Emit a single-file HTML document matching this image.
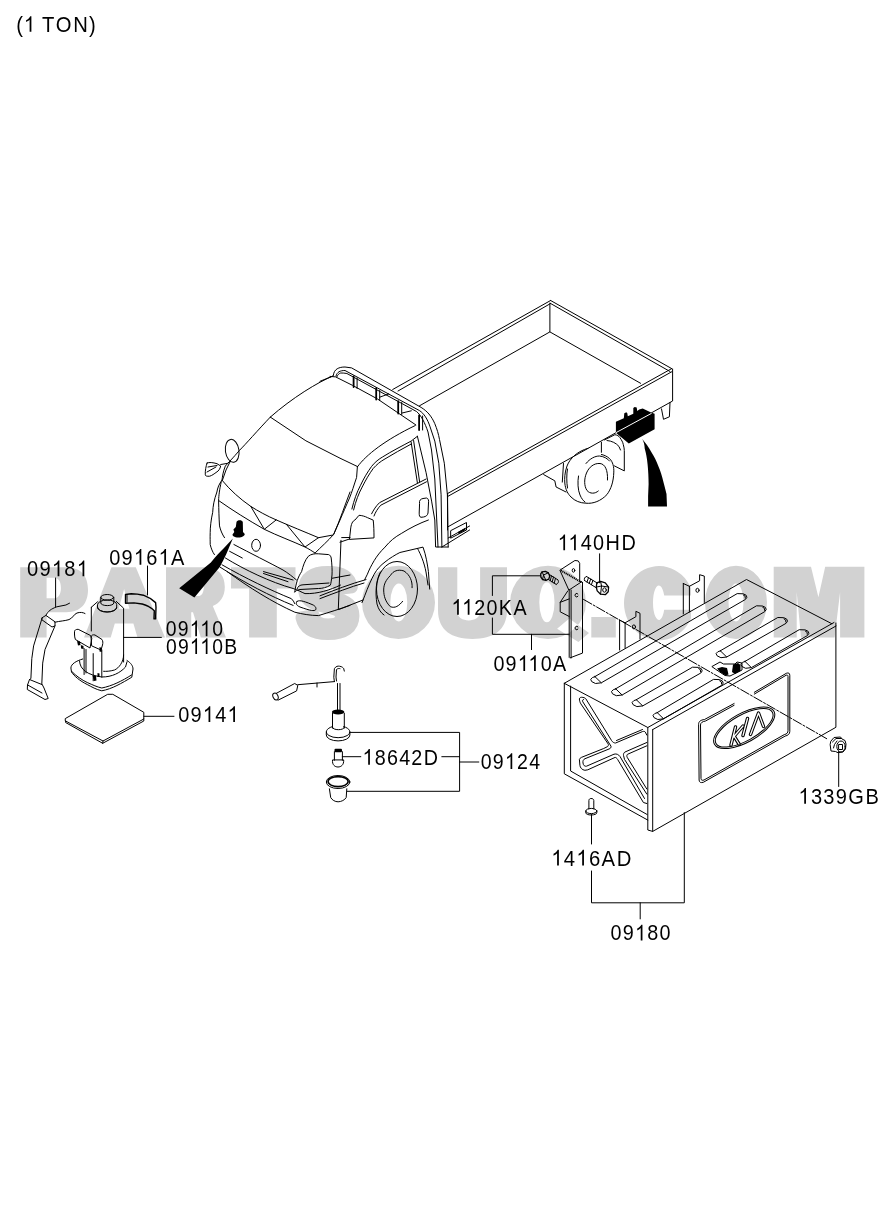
<!DOCTYPE html>
<html><head><meta charset="utf-8"><style>
html,body{margin:0;padding:0;background:#fff;}
body{width:886px;height:1211px;overflow:hidden;}
svg{display:block;}
.t{opacity:0.999;}
.t{font-family:"Liberation Sans",sans-serif;font-size:21.5px;fill:#000;}
.wm{font-family:"Liberation Sans",sans-serif;font-weight:bold;font-size:100px;fill:#d2d2d2;stroke:#d2d2d2;stroke-width:9;stroke-linejoin:round;}
.l{fill:none;stroke:#000;stroke-width:1;stroke-linejoin:round;stroke-linecap:round;}
.k{fill:#000;stroke:none;}
</style></head><body>
<svg width="886" height="1211" viewBox="0 0 886 1211">
<rect width="886" height="1211" fill="#fff"/>
<!-- watermark -->
<g fill="#d2d2d2" fill-rule="evenodd">
<path d="M 20.2 637.5 L 20.2 567.3 L 66.3 567.3 C 81.2 567.3 88.0 576.4 88.0 589.8 C 88.0 603.1 81.2 612.2 66.3 612.2 L 46.6 612.2 L 46.6 637.5 Z M 46.6 577.8 L 54.1 577.8 C 58.8 577.8 60.9 582.0 60.9 588.0 C 60.9 594.0 58.8 598.2 54.1 598.2 L 46.6 598.2 Z"/>
<path d="M 84.0 637.5 L 111.5 567.3 L 135.8 567.3 L 165.0 637.5 L 137.5 637.5 L 133.4 623.5 L 114.8 623.5 L 110.7 637.5 Z M 118.8 608.7 L 129.4 608.7 L 124.1 589.1 Z"/>
<path d="M 166.0 637.5 L 166.0 567.3 L 204.4 567.3 C 218.8 567.3 224.8 575.7 224.8 587.0 C 224.8 596.8 220.0 603.1 212.8 605.9 L 226.0 637.5 L 200.8 637.5 L 193.0 612.2 L 191.2 612.2 L 191.2 637.5 Z M 191.2 578.5 L 199.0 578.5 C 202.6 578.5 203.8 582.0 203.8 587.0 C 203.8 591.9 202.0 596.1 198.4 596.1 L 191.2 596.1 Z"/>
<path d="M 231.0 567.3 L 295.5 567.3 L 295.5 588.4 L 276.8 588.4 L 276.8 637.5 L 249.1 637.5 L 249.1 588.4 L 231.0 588.4 Z"/>
<path d="M362.0 602.4A36.5 36.6 0 1 1 435.0 602.4A36.5 36.6 0 1 1 362.0 602.4ZM390.3 602.4A8.5 19.0 0 1 0 407.3 602.4A8.5 19.0 0 1 0 390.3 602.4Z"/>
<path d="M 438.0 567.3 L 457.3 567.3 L 457.3 611.8 C 457.3 617.5 462.8 620.4 468.7 620.4 C 474.6 620.4 480.1 617.5 480.1 611.8 L 480.1 567.3 L 507.0 567.3 L 507.0 610.3 C 507.0 630.4 493.2 639.0 472.5 639.0 C 451.8 639.0 438.0 630.4 438.0 610.3 Z"/>
<path d="M510.0 602.4A38.0 36.6 0 1 1 586.0 602.4A38.0 36.6 0 1 1 510.0 602.4ZM539.3 602.3A7.6 20.0 0 1 0 554.5 602.3A7.6 20.0 0 1 0 539.3 602.3ZM 557.1 628.8 L 569.3 618.5 L 589.0 633.1 L 578.4 641.9 Z"/>
<path d="M591.3 617H615.8V637.5H591.3Z"/>
<path d="M691 588.2A35 37.1 0 1 0 691 618.2L691 609.8L664.2 609.8A5.85 17.3 0 1 1 664.2 595.6L691 595.6Z"/>
<path d="M705.0 602.4A31.0 36.6 0 1 1 767.0 602.4A31.0 36.6 0 1 1 705.0 602.4ZM728.5 602.4A7.5 19.0 0 1 0 743.5 602.4A7.5 19.0 0 1 0 728.5 602.4Z"/>
<path d="M773.7 637.6L773.7 566.8L811 566.8L818.4 597.2L825.2 566.8L864.4 566.8L864.4 637.6L840.1 637.6L840.1 592L834.6 637.6L801 637.6L796.7 592L796.7 637.6Z"/>
</g>
<g class="wm"><text transform="translate(298.9 632.5) scale(0.866 0.872)" style="stroke-width:14">S</text></g>

<!-- leader lines -->
<g class="l">
<path d="M55.6 578V607"/>
<path d="M147.5 566V595"/>
<path d="M123.6 637.4H161.4"/>
<path d="M143.9 716.3H174"/>
<path d="M349.9 732.4H459.6V791.3H347.4M342.3 756.7H360.8M441.8 756.7H459.6M459.6 762H478.8"/>
<path d="M599.6 553.8V582.8"/>
<path d="M540.7 575.8H492.4V595.5M492.4 618V634.3H569.2M531.5 634.3V649.6"/>
<path d="M838.7 751.4V786.5"/>
<path d="M591.5 814.5V844M591.5 871V902.8H684.3V812.6M640.2 902.8V918.9"/>
</g>

<!-- ===== TRUCK ===== -->
<g class="l">
<!-- roof -->
<path d="M320 381.3L333.4 375.8"/>
<path d="M333 376C318 382 292 398 270.3 417.1"/>
<path d="M330 376.4L335.6 376.9L352.6 385.4L377.4 398.9L415.8 424.9"/>
<path d="M270.3 417.1L305.9 440.8L340 458.2L357.6 466.6"/>
<path d="M357.6 466.6C366 455 385 440 415.3 425.5"/>
<!-- rollbar -->
<path d="M333.4 375C334 369 339 367 345 367L351.6 367.9L421.1 407.4C427 411 431.5 416 434.8 423.7C437 429 438.5 434 439.5 439.5L444.3 463.2L447.4 494.8L448.2 547"/>
<path d="M336 376C337 372 340 370.5 345 370.5L419.5 410.6C424 413.5 427.5 419 430.1 426.9L434.8 441.1L438.8 463.2L441.1 494.8L441.9 547"/>
<path d="M336.8 376.9C337.5 375 339 373.5 340.7 373C342.5 372.8 345 373.2 346.9 373.5L409 407.4L416.5 411.5C421 415 425 423 428 432L431.5 450L434.8 479L438 547"/>
<path d="M417.4 436.3L426.1 472.7L431.6 501.1L434.8 520L435.6 547H448.2"/>
<path d="M357.1 378V388.5M379.7 390.5V400.5M401.7 402.5V414.5M422.6 416V430"/>
<path d="M353.6 376.4V387.1M376.2 388.2V399.5M398.2 401.2V413.6M419.1 415.3V430" stroke-width="1.8"/>
<path d="M379.7 397.2L388.7 393.9M402.2 413L411.3 410.8"/>
<!-- bed -->
<path d="M550.6 300.5L392.7 389.5"/>
<path d="M550.6 303.5L398 391"/>
<path d="M550.6 300.5L671.7 368.6"/>
<path d="M550.6 303.5L670 371.5"/>
<path d="M549.9 303.1V331.9L419.5 405.8M549.9 331.9L640.6 383.3"/>
<path d="M671.7 368.6L447.6 493.5"/>
<path d="M671.7 371.8L447.6 496.5"/>
<path d="M672.6 369L672.6 401L447.6 527M447.6 493.5V530"/>
<path d="M661.5 408.9L663.5 419.3L669.4 416.8L670 402.4"/>
<!-- rear wheel & under -->
<path d="M588 448.3C578 451 570 458 567 466C564.5 473 564.5 479 564.8 483C565.5 490 568 494 571 497C575 501 580 503 585.9 503.2C593 504 601 501 607 494.5C611 489 613.5 482 613.8 472.1C614 467 613 462 609.5 458.5C606.5 456 604 455 601.4 454.5"/>
<path d="M567.5 469C566.5 474 566.5 482 567.5 488"/>
<path d="M578.5 476C577.5 482 577.8 490 580 495C581.5 498.5 583 500.5 585 502"/>
<path d="M586 463.5C590 458.5 595 456 599.5 456C604 456.5 607.5 458.5 609.5 461"/>
<path d="M607.5 480C608 470 605 464 600 463.5C594 463 589 467 586.5 473C584 479 584 486 587 490.5C590 494 595 494 598.3 491"/>
<path d="M601.4 442.3V452.3M604.5 439.9L614.9 434.7C617 435 619 436 619.9 437.6C621.5 440 622.8 442 623.3 444.6C624 447 624.3 449 624.3 450.5L624.3 470.9L614.4 465.9M607 440.5C612 441 616 443 619 446.5L620.5 450"/>
<path d="M543.7 474.6L554.8 480.8L556.1 487L566 492M563.5 463.5L562.3 482.1"/>
<!-- cab front -->
<path d="M270.3 417.1C258 430 245 445 239.5 450.3C233 458 228 463 225.3 466.1C223 472 222.5 476 222 480.2"/>
<path d="M222 480.2C219 484 217.5 488 216.9 492C214 500 213 506 212.7 512.3C211 520 210.2 527 210.2 532.6C210 538 210.2 541 210.2 544.5C211 548 212.5 552 214.4 554.6"/>
<path d="M221.2 481.9C219.5 490 218.8 495 218.6 500.5C218.8 510 219 518 219.5 525.9C220.5 530 222 534 224.5 537.7"/>
<path d="M222 480.2C230 490 240 499 250.8 506.4C258 511 267 516 276.2 519.9C290 526 305 532 318.5 537.7L333 535"/>
<path d="M218.6 500.5C232 510 248 520 264.3 529.3C278 536 292 541 305 547C309 549 312 551 315 553"/>
<path d="M250.8 506.4L264.3 529.3L276.2 519.9M286.3 524.2L305 547L318.5 537.7"/>
<path d="M350 492C345 505 340 520 333.7 534.3C328 541 321 547 315.1 553"/>
<path d="M294.8 591.9C296 583 298 577 301.6 571.6C303 566 305 560 308.3 556.3C311 554 315 553.5 318.5 553.8L328.7 554.6C330 555 331 556.5 331.2 558C332 565 332.3 570 332 575C331.5 580 331 583 330.4 585.1C327 587.5 322 588.5 318.5 588.5L300 589.5C297 590 295.5 591 294.8 591.9Z"/>
<path d="M297 589C298 586 300 585 303 584.8L329 583"/>
<path d="M332 578.3L350 575"/>
<path d="M233.9 544.5C250 553 270 563 283 570C288 573 293 577 296.5 580"/>
<path d="M229.6 551.3L242.3 558"/>
<path d="M263.5 571.6L293.1 580M263.5 573.5L288 581.7"/>
<path d="M225.4 558C245 570 270 582 293.1 588.5C298 590 301 592 305 593.6C318 594 330 590 340.5 585.1"/>
<path d="M222 564.8C245 578 270 590 291.4 598.7C293 600 294 602 294.8 603.7"/>
<path d="M220.3 567.3C245 583 270 596 293.1 605.4"/>
<path d="M227.1 571.6C250 588 272 602 294.8 612.2C302 614 310 615.5 318.5 615.6C330 612 340 609 350 605.4"/>
<path d="M297 601.5C298.5 600 302 600.3 312 604.5C316 606 316.5 608.5 315.5 610C314 611 311 611 300 607C296 605.5 295.5 603 297 601.5Z"/>
<path d="M341.7 537.6L350 537.5"/>
<ellipse cx="256.1" cy="545.3" rx="4.4" ry="6"/>
<!-- mirrors -->
<ellipse cx="232.2" cy="450.8" rx="6.8" ry="11.5" transform="rotate(-8 232.2 450.8)"/>
<path d="M207.1 463C209 462 213 462.5 217 463.7L220.7 466C220 469 218.5 471 217 471.8C214 474 212 475.5 209.7 476.2C207 476.5 205.3 476 205.3 474.8C205 471 206 466 207.1 463Z"/>
<path d="M208 467L217 465.5M207 472L216 467"/>
<path d="M220.7 464.5L227.3 463.4L230.2 461.5M230.2 461.5L226 470L222.5 480"/>
<!-- door / side -->
<path d="M357.4 466.4L356.6 477.4C354 485 352 492 349.5 498C346 506 343 513 340 520L333.7 534.3"/>
<path d="M351.9 509C354 500 357 492 360.5 485.3C364 478 367.5 472 371.6 466.4C375 462 379 459 382.7 456.9C392 451 402 446 411.1 441.1L417.4 436.3"/>
<path d="M353.6 510C355.7 501 358.7 493.5 362.2 487C365.7 480 369.2 474 373.2 468.5C376.7 464.5 380.5 461.5 384 459.5C393 454 402 449 411.1 444.1"/>
<path d="M411.1 441.9L417.4 482.9M413.6 440.5L419.6 481.8"/>
<path d="M426.1 479L379.5 502.7C376 506 373.5 510 371.6 513.8M426.5 481.8L380.8 505.2C377.7 508.5 375.5 512 374 516"/>
<path d="M419.5 503C419 500.5 420.5 499 423 498.5L426.5 498C428.5 498.5 428.8 500.5 428.5 503L428 513C427.5 515.5 426 516.5 423.5 517L421 517.3C419.5 517 419.2 515.5 419.2 513.5Z"/>
<path d="M349.5 539L350.5 530C351 524 352.5 521 355 520L359 515.3C362 515.5 365 516.3 367.6 517.7L373.2 520.1C373.8 525 374 531 374 537.5Z"/>
<path d="M340 542.2L349.5 539"/>
<path d="M341 540.3L338.3 609.4"/>
<path d="M428.4 520C420 523 410 528 401.3 533.5C395 537 390 541 385 547.1C380 552 377 556 374.2 560.6C371 566 369 570 367.4 574.2L364.7 579.6"/>
<path d="M362 602.6L364.7 595.8C368 587 371 580 374.2 574.2C377 569 381 565 385 562C390 558 395 555 399.9 552.5L417.5 548.4L423 547.1C426 555 427.5 565 428.4 571.5L429.7 589.1"/>
<path d="M417.5 548.4C421 555 424 562 426 572L428 585"/>
<ellipse cx="397" cy="589" rx="20.5" ry="27.5"/>
<path d="M380.5 572C376 580 375 592 377 604C378.5 609.5 381 613 384 615"/>
<path d="M412.1 587.7C412.5 581 410 575 404 571C398 569 393 571 390.4 575.5C386 580 383.7 584 383.7 590C383.7 596 385.5 602 390.4 606.7C395 608.5 399 606 402.6 601.3"/>
<path d="M320 595.8C335 590 350 584 366 579.6M320 598.6C335 593 350 587 364 583M339 609.4L363.3 599.9"/>
<path d="M441.9 547L469.6 530M448.2 538L469.6 526M451 530.5L466.5 522.5L466.5 530L451 538Z"/>
</g>
<g class="k"><path d="M458 532L465 528L465.5 530L458.5 534Z"/></g>
<g class="l">
</g>
<!-- black fills truck -->
<g class="k">
<path d="M615.9 421.8L623.8 418.3L624.3 413.3L626.3 412.3L627.3 413.3L627.8 416.3L633.3 413.8L633.3 407.9L634.7 406.9L636.7 407.4L637.2 410.9L639.2 409.4L642.7 408.4L651.6 412.8L654.6 413.8L654.6 429.2L628.8 443.6L615.9 432.7Z"/>
<path d="M642.2 439.1C644 442 644.5 445 644.7 448.5C646 453 647 458 647.6 464.4C648.3 471 648.6 478 648.6 484.2L648.1 496.1L648.1 506.5L667 506.5L666.5 494.1C665.5 490 664.5 486 663.5 482.2C662 476 660.5 471 658.5 466.4C656.5 461 654 456 651.6 452.5C648.5 447 645.5 443 642.2 439.1Z"/>
<path d="M236.5 522C237 520 242 519.5 242.8 522L243 532L244.8 534C244.5 536.5 241 537.8 238 537.5C235 537.3 232.4 536 232.5 534.4L234.3 532L233.4 529.5L235.8 527Z"/>
<path d="M232.8 538.5C225 547 216 556 210.6 562.8L179.2 588.2L194.4 597.4L219.8 566.9C225 558 228 550 232.8 538.5Z"/>
</g>
<path d="M615.9 432.7L651.6 413.3" stroke="#fff" stroke-width="1"/>

<!-- ===== LEFT PARTS ===== -->
<g class="l">
<!-- strap 09181 -->
<path d="M42.2 617.7L33.6 645.9L31.8 658.6L30.9 678.6L29.5 679.5L27.5 685L27.3 689.5L45 699.5L48.2 698.5L44 688L42.2 684.5"/>
<path d="M55 625.9L45 649.5L42.7 663.1L41.8 684"/>
<path d="M42.2 617.7L45.9 615.4L55 621.8L55 625.9L52 627L42.2 620Z"/>
<path d="M29.5 679.5L41.8 684.5M27.7 685L42 693"/>
<path d="M45.9 615.4C48 611 51 609 56.8 606.8L65.9 605L69.5 603.2"/>
<path d="M55 622.2C60 621 65 620.9 69 619.6C73 618 74 614 77 613C80 612 83 612.3 85 613.5"/>
<!-- clamp 09161A -->
<path stroke-width="1.4" d="M125.5 594.5L131.2 593.8L137.3 594.1L143.4 595.2C147 596.5 152 599.5 155.6 602.6L156 607.3L155.6 618.9L154 618.9L154.3 610.7C152 608.5 150 607.5 148.9 606.7C146 605 144 604.5 142.1 604L134 602.9L125.5 603.3Z"/>
<path d="M127 595.5V602.5"/>
<!-- jack 09110 -->
<path d="M91.3 607.3V631M91.3 607.3L97.5 601.8M116.3 601.4L123.6 608.2V662"/>
<ellipse cx="107.2" cy="597.3" rx="6.4" ry="2.8"/>
<path d="M100.8 597.5L100.8 603A6.5 2.6 0 0 0 113.8 603L113.8 597.5"/>
<path d="M97.5 604.5A9.6 4.5 0 0 1 116.7 604.5L116.7 607.5A9.6 4.5 0 0 1 97.5 607.5Z"/>
<path d="M97.5 607.5A9.6 4.5 0 0 0 116.7 607.5"/>
<path d="M82.7 659C76 661 71 664 70.9 668L71.5 672C74 676 80 681 87.2 684.5C92 687 96 689.5 101.8 690.8C112 689 122 683 131.8 677.2L133 669C133 666 131 663 127 660.5"/>
<path d="M71.8 671.5C76 676 82 680 87.2 682.5C93 685 97 687 101.8 688C112 686 122 681 131.5 675"/>
<path d="M79.5 661C80 670 88 675 101.8 677C112 677 120 673 125.5 667L127 661.8"/>
<path d="M123.6 655C123.6 662 119 668 114.5 670C110 671.3 106 671.5 103.6 671.3"/>
<path d="M74.5 634.5V631.8C74.5 630 76 629.3 78.2 629.3L90.5 635.5L91.8 638.5L90 648L75.4 639.5C74.8 638 74.5 636 74.5 634.5Z"/>
<path d="M91 637C91 635 93 634.5 95 635L102 639.5C103 641 103 643 102.5 645L101 650L92 646Z"/>
<path d="M84.1 648.5V674.5M93.2 653.6V680.8M101.8 650V677.2M86 649.5V673"/>
</g>
<g class="k">
<path d="M77 641L80 641.5L80.5 645L78 645.5Z"/>
<path d="M80.8 645L83.5 646L83.6 649L81 648.5Z"/>
<path d="M99.5 647L101.8 648L101.8 652L99.5 651.5Z"/>
<path d="M92.5 675.5L96 676L96.5 680.5L94 681Z"/>
<path d="M97.5 673L99.5 673.5L99.5 677L97.5 677Z"/>
</g>
<g class="l">
<!-- pad 09141 -->
<path d="M65.6 718.4L107.7 694.3L112.8 694.3L143.8 712.3L143.8 719L103 741L65.6 721Z"/>
<path d="M65.6 721L65.6 722.5L102.7 743.3L143.8 721L143.8 719M103 741L102.7 743.3"/>
</g>

<!-- ===== MIDDLE PARTS 09124 ===== -->
<g class="l">
<ellipse cx="275.5" cy="696.5" rx="2.5" ry="3.5" transform="rotate(-25 275.5 696.5)"/>
<path d="M276.2 693.4L294.7 683.5L297.8 685.4L296.6 690.9L278 700.2"/>
<path d="M297.8 684.7L334.4 681.6M317 683V687"/>
<path d="M334.4 681.6L333.8 677.3L334.4 668.6C336 666 338 666 339.4 666.2C342 666.5 343.5 668 343.7 668.6L344.3 671.1M336.5 681L336 677L336.5 669.5C337.5 668.5 339 668.3 340 668.6"/>
<path d="M337.5 683.5V711M340 683.5V711"/>
<path d="M332.5 713.2V728.1M344.3 713.2V728.1"/>
<path d="M332.5 726.6A11.8 5.9 0 1 0 343.7 726.6"/>
<path d="M332.5 727.5A5.9 2.2 0 0 0 344.3 727.5"/>
<path d="M326.3 732V735A11.8 5.9 0 0 0 349.9 735V732"/>
<path d="M334.4 751.7V760.3M342.4 751.7V760.3M332.5 760.3C332 765 335 767 338 767C341 767 344 765 343.7 760.3Z"/>
<ellipse cx="338.1" cy="782" rx="11.8" ry="6.5"/>
<ellipse cx="338.1" cy="781.6" rx="10" ry="5" stroke-width="1.6"/>
<path d="M329.4 788.8L330.7 797.5C332 800 335 801.8 338.1 801.8C341 801.8 345 800 346.2 797.5L346.8 788.8"/>
</g>
<g class="k">
<ellipse cx="338.1" cy="712" rx="6.2" ry="2.5"/>
<rect x="334.5" y="748.8" width="7.5" height="3.5" rx="1"/>
</g>

<!-- ===== BRACKET 09110A & BOLTS ===== -->
<g class="l">
<path d="M560.2 570L574.9 560.5L578.2 560.9L579.7 563.3L579.7 581.4L581.6 581.8L569.2 589.9Z"/>
<path d="M560.7 570.4L581.6 582.3" stroke-width="1.9" stroke-dasharray="1.2 0.7" stroke-linecap="butt"/>
<path d="M569.2 589.9V657.4M571.1 590V658M582.5 582.3V653.1L570.2 657.8"/>
<path d="M567.8 590.9L560.2 602.3V611.8L569.2 616.5M560.2 602.3L569.2 598.9"/>
<ellipse cx="573.5" cy="570.4" rx="1.3" ry="1.8"/>
<path d="M578 594.2A1.6 1.8 0 1 0 578 596.2M578 627A1.6 1.8 0 1 0 578 629"/>
<!-- 1120KA bolt -->
<path d="M540.7 573.8L542.1 571.9L545.5 571.4L548.3 572.8L549.7 576.1L548.8 579L545.9 580.4L542.6 579.5L540.9 577.1Z" stroke-width="1.3"/>
<path d="M542.1 571.9L543.5 575L542.6 579.5M543.5 575L548.3 572.8M543.5 575L545.9 580.4"/>
<path d="M549.5 574.6L557.8 579.8M548.6 579.6L556.2 584.4M557.8 579.8C559.2 581 558.6 583.6 556.2 584.4M551.5 575.8L550.2 580.8M553.5 577L552.2 582M555.5 578.3L554.2 583.3"/>
<!-- 1140HD bolt -->
<path d="M586.5 576.5L597.5 583.2M584.5 580.5L596 587.6M586.5 576.5C584.5 576.8 583.8 579 584.5 580.5M588.5 577.7L587 582M590.7 579L589.2 583.4M592.9 580.4L591.4 584.7"/>
<path d="M596.8 582.8L600.6 581.4L605.3 582.8L608.6 587.1L608.2 591.8L605.3 594.7L600.6 594.2L597.2 590.9L596.3 587.1Z" stroke-width="1.3"/>
<path d="M600.6 581.4L601.5 586L600.6 594.2M601.5 586L608.6 587.1M601.5 586L596.3 587.1"/>
<ellipse cx="604.5" cy="590" rx="1.8" ry="2.2"/>
<!-- dashed line -->
<path d="M583.5 599.4L826.7 738.7" stroke-dasharray="9.5 1.8 2 1.8"/>
</g>

<!-- ===== BOX 09180 ===== -->
<g class="l">
<!-- brackets on back -->
<path d="M619.6 620.1V650M625.1 622.8V648M619.6 620.1L625.1 622.8L635.9 616.7V611.3L640 613.3V639.1"/>
<ellipse cx="633.9" cy="626.9" rx="1.6" ry="2"/>
<path d="M683.3 583.5V614M689.4 586.3V612M683.3 583.5L689.4 586.3L699.6 580.8V574.7L704.3 576.1V602.5"/>
<ellipse cx="697.5" cy="590.3" rx="1.6" ry="2"/>
<!-- top face -->
<path d="M564.3 683.3L746.5 579.5L831.8 623.7"/>
<path d="M564.3 683.3L647.8 727.5L834 622.5"/>
<path d="M652.7 729.6L836 626"/>
<!-- slots -->
<path d="M594.9 676.6L737.2 593.6L743.2 593.8Q747.2 594.9 746.9 597.3L745.5 599.4L601.3 682.8L595.5 683.5Q590.3 681.8 590.7 679.3Q591.9 677.2 594.9 676.6ZM594.9 676.6L601.3 682.8M743.4 594.9Q746.0 595.6 745.4 598.2"/>
<path d="M615.7 688.8L756.5 605.8L762.5 606.0Q766.5 607.1 766.2 609.5L764.8 611.6L622.1 695.0L616.3 695.7Q611.1 694.0 611.5 691.5Q612.7 689.4 615.7 688.8ZM615.7 688.8L622.1 695.0M762.7 607.1Q765.3 607.8 764.7 610.4"/>
<path d="M636.3 699.7L692.5 667.2L698.5 667.4Q702.5 668.5 702.2 670.9L700.8 673.0L642.7 705.9L636.9 706.6Q631.7 704.9 632.1 702.4Q633.3 700.3 636.3 699.7ZM636.3 699.7L642.7 705.9M698.7 668.5Q701.3 669.2 700.7 671.8"/>
<path d="M720.3 650.8L777.8 617.5L783.8 617.7Q787.8 618.8 787.5 621.2L786.1 623.3L726.7 657.0L720.9 657.7Q715.7 656.0 716.1 653.5Q717.3 651.4 720.3 650.8ZM720.3 650.8L726.7 657.0M784.0 618.8Q786.6 619.5 786.0 622.1"/>
<path d="M657.2 712.6L713.5 679.4L719.5 679.6Q723.5 680.7 723.2 683.1L721.8 685.2L663.6 718.8L657.8 719.5Q652.6 717.8 653.0 715.3Q654.2 713.2 657.2 712.6ZM657.2 712.6L663.6 718.8M719.7 680.7Q722.3 681.4 721.7 684.0"/>
<path d="M745.0 661.4L799.2 629.7L805.2 629.9Q809.2 631.0 808.9 633.4L807.5 635.5L751.4 667.6L745.6 668.3Q740.4 666.6 740.8 664.1Q742.0 662.0 745.0 661.4ZM745.0 661.4L751.4 667.6M805.4 631.0Q808.0 631.7 807.4 634.3"/>
<!-- latch -->
<path d="M712.2 666.4L720 662L723.5 664L735 664L737 662L742 663L742 670L730 676L725 675.5L716 669.5Z"/>
</g>
<g class="k">
<path d="M717 668.5L722 667L727 668L728.5 674.5L725.5 675.5L720 672Z"/>
<path d="M733 664.5L738 663L740.5 665L740.5 671L735 674L732 672Z"/>
</g>
<g class="l">
<!-- end face -->
<path d="M564.3 683.3V773.8L647.8 820.1M570.6 686.1V771L647.1 814.5"/>
<!-- front panel -->
<path d="M647.8 727.5V830L652.7 831.4V729.6M652.7 831.4L835.9 727.3V623"/>
<!-- X brace -->
<path d="M646.8 735.1L645.3 732.1C645 731.5 643.8 731.1 642.4 731.6L615.6 743C614 743 612.6 742.2 611.6 740.6L585.9 698.9C585.5 698.3 584.5 697.7 582.9 697.4C581 697 579.5 697.5 579.4 698.9C579.4 700.5 580 702.5 580.9 703.9L608.2 744C608.6 744.8 608.5 745.5 607.7 746.5L603.7 748.5L581.4 757.4C580.5 757.8 579.6 758.6 579.4 759.4L579.9 765.3C580 767.5 582 770 584.9 770.3L587.8 769.8L615.1 757.4C616 757.5 617 758.3 617.6 759.4L643.4 802.5L646.8 803.5"/>
<path d="M646.8 742.5L625 752C623.8 752.7 623.3 754 623.5 755.4L624.5 759.4L646.8 794.1"/>
<path d="M583.5 699.5C582.5 699.5 582.2 700.5 582.8 701.8L611 746.2C611.3 747.5 610.5 748.5 609 749L585 758.7C583.2 759.5 582.7 761 583 763C583.4 765.5 584.6 766.5 586.5 766.2L614 754.2C616.5 753.5 618.5 754.5 620 756.5L644.5 798.5"/>
<path d="M616.5 740.5L642.5 729.5M646.8 745.8L627.5 754.3C626.8 755 626.6 756.2 627.2 757.3L646.8 789"/>
<!-- KIA plaque -->
<path d="M734.1 703.5L704.5 719.5C700.5 720 698.6 721.5 698.6 724.3L699.1 780C699.1 782.5 701 783 703.3 782.3L785.1 736.1C788 735.5 789.8 734 789.8 731.4L789.8 675.5C789.8 673 788.5 672.5 786.3 673.3L754.3 692.3"/>
<path d="M734.1 705.3L705.5 721C702.3 721.6 700.5 722.8 700.5 725L701 778.5C701 780.3 702.3 780.6 704 780L784.3 734.6C787 734 788 732.8 788 730.5L788 676.5C788 675 787.2 674.8 786 675.3L754.3 694.1"/>
<ellipse cx="744.2" cy="727.8" rx="34" ry="14.5" transform="rotate(-29 744.2 727.8)"/>
<ellipse cx="744.2" cy="727.8" rx="32.2" ry="12.9" transform="rotate(-29 744.2 727.8)"/>
</g>
<g fill="none" stroke-linecap="round" stroke-linejoin="round">
<path d="M731 745L735.5 727M733.5 737L743 726M734 736L739 744M743 735.5L747.5 718.5M750.5 734.5L758.5 713L763.5 726.5" stroke="#000" stroke-width="3.4"/>
<path d="M731 745L735.5 727M733.5 737L743 726M734 736L739 744M743 735.5L747.5 718.5M750.5 734.5L758.5 713L763.5 726.5" stroke="#fff" stroke-width="1.3"/>
</g>
<g class="l">
<!-- nut 1339GB -->
<path d="M831 741L834 737.5L840.5 737L842 739L845 740.5L846 744L845.5 749L843 752L838 752.7L835.5 751.5L831 751L830.2 745Z"/>
<path d="M832.5 742L836 738.5L841 738.5M833.5 748L834.5 744.5L837 741"/>
<ellipse cx="841" cy="746.5" rx="4.2" ry="5.5"/>
<path d="M839 744.5H842.5V749.5H839Z"/>
<!-- bolt 1416AD -->
<path d="M588.9 809V800.5C589 799 590 798.5 591 798.5C592.5 798.5 593.8 799 593.8 800.5V809"/>
<ellipse cx="591.3" cy="811" rx="5.5" ry="2.6"/>
<path d="M585.8 811V813C586 814 588 815 591.3 815C594 815 596.8 814 596.8 813V811"/>
</g>

<g class="t">
<g transform="translate(15.75 31.80) scale(1.045 1.0)"><text x="3.59" y="0" text-anchor="middle" transform="translate(3.59 0) scale(0.9 1) translate(-3.59 0)">(</text><path transform="translate(13.14 0) scale(0.9 1) translate(-13.14 0) translate(7.16 0) scale(0.0215 -0.0215)" d="M372.6 0L284.7 0L284.7 560Q252.9 529.8 201.4 499.5Q149.9 469.2 108.9 454.1L108.9 539.1Q182.6 573.7 237.8 623Q293 672.4 315.9 718.8L372.6 718.8Z"/><text x="31.07" y="0" text-anchor="middle" transform="translate(31.07 0) scale(0.9 1) translate(-31.07 0)">T</text><text x="45.80" y="0" text-anchor="middle" transform="translate(45.80 0) scale(0.9 1) translate(-45.80 0)">O</text><text x="61.93" y="0" text-anchor="middle" transform="translate(61.93 0) scale(0.9 1) translate(-61.93 0)">N</text><text x="73.27" y="0" text-anchor="middle" transform="translate(73.27 0) scale(0.9 1) translate(-73.27 0)">)</text></g>
<g transform="translate(26.33 576.30) scale(1.042 1.02)"><text x="5.98" y="0" text-anchor="middle" transform="translate(5.98 0) scale(0.9 1) translate(-5.98 0)">0</text><text x="17.94" y="0" text-anchor="middle" transform="translate(17.94 0) scale(0.9 1) translate(-17.94 0)">9</text><path transform="translate(29.89 0) scale(0.9 1) translate(-29.89 0) translate(23.91 0) scale(0.0215 -0.0215)" d="M372.6 0L284.7 0L284.7 560Q252.9 529.8 201.4 499.5Q149.9 469.2 108.9 454.1L108.9 539.1Q182.6 573.7 237.8 623Q293 672.4 315.9 718.8L372.6 718.8Z"/><text x="41.85" y="0" text-anchor="middle" transform="translate(41.85 0) scale(0.9 1) translate(-41.85 0)">8</text><path transform="translate(53.81 0) scale(0.9 1) translate(-53.81 0) translate(47.83 0) scale(0.0215 -0.0215)" d="M372.6 0L284.7 0L284.7 560Q252.9 529.8 201.4 499.5Q149.9 469.2 108.9 454.1L108.9 539.1Q182.6 573.7 237.8 623Q293 672.4 315.9 718.8L372.6 718.8Z"/></g>
<g transform="translate(108.56 564.80) scale(1.033 1.02)"><text x="5.98" y="0" text-anchor="middle" transform="translate(5.98 0) scale(0.9 1) translate(-5.98 0)">0</text><text x="17.94" y="0" text-anchor="middle" transform="translate(17.94 0) scale(0.9 1) translate(-17.94 0)">9</text><path transform="translate(29.89 0) scale(0.9 1) translate(-29.89 0) translate(23.91 0) scale(0.0215 -0.0215)" d="M372.6 0L284.7 0L284.7 560Q252.9 529.8 201.4 499.5Q149.9 469.2 108.9 454.1L108.9 539.1Q182.6 573.7 237.8 623Q293 672.4 315.9 718.8L372.6 718.8Z"/><text x="41.85" y="0" text-anchor="middle" transform="translate(41.85 0) scale(0.9 1) translate(-41.85 0)">6</text><path transform="translate(53.81 0) scale(0.9 1) translate(-53.81 0) translate(47.83 0) scale(0.0215 -0.0215)" d="M372.6 0L284.7 0L284.7 560Q252.9 529.8 201.4 499.5Q149.9 469.2 108.9 454.1L108.9 539.1Q182.6 573.7 237.8 623Q293 672.4 315.9 718.8L372.6 718.8Z"/><text x="66.96" y="0" text-anchor="middle" transform="translate(66.96 0) scale(0.9 1) translate(-66.96 0)">A</text></g>
<g transform="translate(165.20 636.30) scale(1.004 1.02)"><text x="5.98" y="0" text-anchor="middle" transform="translate(5.98 0) scale(0.9 1) translate(-5.98 0)">0</text><text x="17.94" y="0" text-anchor="middle" transform="translate(17.94 0) scale(0.9 1) translate(-17.94 0)">9</text><path transform="translate(29.09 0) scale(0.9 1) translate(-29.09 0) translate(23.91 0) scale(0.0215 -0.0215)" d="M372.6 0L284.7 0L284.7 560Q252.9 529.8 201.4 499.5Q149.9 469.2 108.9 454.1L108.9 539.1Q182.6 573.7 237.8 623Q293 672.4 315.9 718.8L372.6 718.8Z"/><path transform="translate(40.25 0) scale(0.9 1) translate(-40.25 0) translate(34.27 0) scale(0.0215 -0.0215)" d="M372.6 0L284.7 0L284.7 560Q252.9 529.8 201.4 499.5Q149.9 469.2 108.9 454.1L108.9 539.1Q182.6 573.7 237.8 623Q293 672.4 315.9 718.8L372.6 718.8Z"/><text x="52.21" y="0" text-anchor="middle" transform="translate(52.21 0) scale(0.9 1) translate(-52.21 0)">0</text></g>
<g transform="translate(165.40 653.90) scale(1.000 1.02)"><text x="5.98" y="0" text-anchor="middle" transform="translate(5.98 0) scale(0.9 1) translate(-5.98 0)">0</text><text x="17.94" y="0" text-anchor="middle" transform="translate(17.94 0) scale(0.9 1) translate(-17.94 0)">9</text><path transform="translate(29.09 0) scale(0.9 1) translate(-29.09 0) translate(23.91 0) scale(0.0215 -0.0215)" d="M372.6 0L284.7 0L284.7 560Q252.9 529.8 201.4 499.5Q149.9 469.2 108.9 454.1L108.9 539.1Q182.6 573.7 237.8 623Q293 672.4 315.9 718.8L372.6 718.8Z"/><path transform="translate(40.25 0) scale(0.9 1) translate(-40.25 0) translate(34.27 0) scale(0.0215 -0.0215)" d="M372.6 0L284.7 0L284.7 560Q252.9 529.8 201.4 499.5Q149.9 469.2 108.9 454.1L108.9 539.1Q182.6 573.7 237.8 623Q293 672.4 315.9 718.8L372.6 718.8Z"/><text x="52.21" y="0" text-anchor="middle" transform="translate(52.21 0) scale(0.9 1) translate(-52.21 0)">0</text><text x="65.36" y="0" text-anchor="middle" transform="translate(65.36 0) scale(0.9 1) translate(-65.36 0)">B</text></g>
<g transform="translate(177.56 721.90) scale(1.032 1.02)"><text x="5.98" y="0" text-anchor="middle" transform="translate(5.98 0) scale(0.9 1) translate(-5.98 0)">0</text><text x="17.94" y="0" text-anchor="middle" transform="translate(17.94 0) scale(0.9 1) translate(-17.94 0)">9</text><path transform="translate(29.89 0) scale(0.9 1) translate(-29.89 0) translate(23.91 0) scale(0.0215 -0.0215)" d="M372.6 0L284.7 0L284.7 560Q252.9 529.8 201.4 499.5Q149.9 469.2 108.9 454.1L108.9 539.1Q182.6 573.7 237.8 623Q293 672.4 315.9 718.8L372.6 718.8Z"/><text x="41.85" y="0" text-anchor="middle" transform="translate(41.85 0) scale(0.9 1) translate(-41.85 0)">4</text><path transform="translate(53.81 0) scale(0.9 1) translate(-53.81 0) translate(47.83 0) scale(0.0215 -0.0215)" d="M372.6 0L284.7 0L284.7 560Q252.9 529.8 201.4 499.5Q149.9 469.2 108.9 454.1L108.9 539.1Q182.6 573.7 237.8 623Q293 672.4 315.9 718.8L372.6 718.8Z"/></g>
<g transform="translate(361.94 764.80) scale(1.020 1.02)"><path transform="translate(5.98 0) scale(0.9 1) translate(-5.98 0) translate(0.00 0) scale(0.0215 -0.0215)" d="M372.6 0L284.7 0L284.7 560Q252.9 529.8 201.4 499.5Q149.9 469.2 108.9 454.1L108.9 539.1Q182.6 573.7 237.8 623Q293 672.4 315.9 718.8L372.6 718.8Z"/><text x="17.94" y="0" text-anchor="middle" transform="translate(17.94 0) scale(0.9 1) translate(-17.94 0)">8</text><text x="29.89" y="0" text-anchor="middle" transform="translate(29.89 0) scale(0.9 1) translate(-29.89 0)">6</text><text x="41.85" y="0" text-anchor="middle" transform="translate(41.85 0) scale(0.9 1) translate(-41.85 0)">4</text><text x="53.81" y="0" text-anchor="middle" transform="translate(53.81 0) scale(0.9 1) translate(-53.81 0)">2</text><text x="67.55" y="0" text-anchor="middle" transform="translate(67.55 0) scale(0.9 1) translate(-67.55 0)">D</text></g>
<g transform="translate(480.18 768.90) scale(1.011 1.02)"><text x="5.98" y="0" text-anchor="middle" transform="translate(5.98 0) scale(0.9 1) translate(-5.98 0)">0</text><text x="17.94" y="0" text-anchor="middle" transform="translate(17.94 0) scale(0.9 1) translate(-17.94 0)">9</text><path transform="translate(29.89 0) scale(0.9 1) translate(-29.89 0) translate(23.91 0) scale(0.0215 -0.0215)" d="M372.6 0L284.7 0L284.7 560Q252.9 529.8 201.4 499.5Q149.9 469.2 108.9 454.1L108.9 539.1Q182.6 573.7 237.8 623Q293 672.4 315.9 718.8L372.6 718.8Z"/><text x="41.85" y="0" text-anchor="middle" transform="translate(41.85 0) scale(0.9 1) translate(-41.85 0)">2</text><text x="53.81" y="0" text-anchor="middle" transform="translate(53.81 0) scale(0.9 1) translate(-53.81 0)">4</text></g>
<g transform="translate(557.13 550.30) scale(1.028 1.02)"><path transform="translate(5.19 0) scale(0.9 1) translate(-5.19 0) translate(0.00 0) scale(0.0215 -0.0215)" d="M372.6 0L284.7 0L284.7 560Q252.9 529.8 201.4 499.5Q149.9 469.2 108.9 454.1L108.9 539.1Q182.6 573.7 237.8 623Q293 672.4 315.9 718.8L372.6 718.8Z"/><path transform="translate(16.34 0) scale(0.9 1) translate(-16.34 0) translate(10.36 0) scale(0.0215 -0.0215)" d="M372.6 0L284.7 0L284.7 560Q252.9 529.8 201.4 499.5Q149.9 469.2 108.9 454.1L108.9 539.1Q182.6 573.7 237.8 623Q293 672.4 315.9 718.8L372.6 718.8Z"/><text x="28.30" y="0" text-anchor="middle" transform="translate(28.30 0) scale(0.9 1) translate(-28.30 0)">4</text><text x="40.25" y="0" text-anchor="middle" transform="translate(40.25 0) scale(0.9 1) translate(-40.25 0)">0</text><text x="53.99" y="0" text-anchor="middle" transform="translate(53.99 0) scale(0.9 1) translate(-53.99 0)">H</text><text x="69.52" y="0" text-anchor="middle" transform="translate(69.52 0) scale(0.9 1) translate(-69.52 0)">D</text></g>
<g transform="translate(450.94 614.70) scale(1.020 1.02)"><path transform="translate(5.19 0) scale(0.9 1) translate(-5.19 0) translate(0.00 0) scale(0.0215 -0.0215)" d="M372.6 0L284.7 0L284.7 560Q252.9 529.8 201.4 499.5Q149.9 469.2 108.9 454.1L108.9 539.1Q182.6 573.7 237.8 623Q293 672.4 315.9 718.8L372.6 718.8Z"/><path transform="translate(16.34 0) scale(0.9 1) translate(-16.34 0) translate(10.36 0) scale(0.0215 -0.0215)" d="M372.6 0L284.7 0L284.7 560Q252.9 529.8 201.4 499.5Q149.9 469.2 108.9 454.1L108.9 539.1Q182.6 573.7 237.8 623Q293 672.4 315.9 718.8L372.6 718.8Z"/><text x="28.30" y="0" text-anchor="middle" transform="translate(28.30 0) scale(0.9 1) translate(-28.30 0)">2</text><text x="40.25" y="0" text-anchor="middle" transform="translate(40.25 0) scale(0.9 1) translate(-40.25 0)">0</text><text x="53.40" y="0" text-anchor="middle" transform="translate(53.40 0) scale(0.9 1) translate(-53.40 0)">K</text><text x="67.74" y="0" text-anchor="middle" transform="translate(67.74 0) scale(0.9 1) translate(-67.74 0)">A</text></g>
<g transform="translate(492.78 671.00) scale(1.022 1.02)"><text x="5.98" y="0" text-anchor="middle" transform="translate(5.98 0) scale(0.9 1) translate(-5.98 0)">0</text><text x="17.94" y="0" text-anchor="middle" transform="translate(17.94 0) scale(0.9 1) translate(-17.94 0)">9</text><path transform="translate(29.09 0) scale(0.9 1) translate(-29.09 0) translate(23.91 0) scale(0.0215 -0.0215)" d="M372.6 0L284.7 0L284.7 560Q252.9 529.8 201.4 499.5Q149.9 469.2 108.9 454.1L108.9 539.1Q182.6 573.7 237.8 623Q293 672.4 315.9 718.8L372.6 718.8Z"/><path transform="translate(40.25 0) scale(0.9 1) translate(-40.25 0) translate(34.27 0) scale(0.0215 -0.0215)" d="M372.6 0L284.7 0L284.7 560Q252.9 529.8 201.4 499.5Q149.9 469.2 108.9 454.1L108.9 539.1Q182.6 573.7 237.8 623Q293 672.4 315.9 718.8L372.6 718.8Z"/><text x="52.21" y="0" text-anchor="middle" transform="translate(52.21 0) scale(0.9 1) translate(-52.21 0)">0</text><text x="65.36" y="0" text-anchor="middle" transform="translate(65.36 0) scale(0.9 1) translate(-65.36 0)">A</text></g>
<g transform="translate(797.90 803.80) scale(1.035 1.02)"><path transform="translate(5.98 0) scale(0.9 1) translate(-5.98 0) translate(0.00 0) scale(0.0215 -0.0215)" d="M372.6 0L284.7 0L284.7 560Q252.9 529.8 201.4 499.5Q149.9 469.2 108.9 454.1L108.9 539.1Q182.6 573.7 237.8 623Q293 672.4 315.9 718.8L372.6 718.8Z"/><text x="17.94" y="0" text-anchor="middle" transform="translate(17.94 0) scale(0.9 1) translate(-17.94 0)">3</text><text x="29.89" y="0" text-anchor="middle" transform="translate(29.89 0) scale(0.9 1) translate(-29.89 0)">3</text><text x="41.85" y="0" text-anchor="middle" transform="translate(41.85 0) scale(0.9 1) translate(-41.85 0)">9</text><text x="56.20" y="0" text-anchor="middle" transform="translate(56.20 0) scale(0.9 1) translate(-56.20 0)">G</text><text x="71.73" y="0" text-anchor="middle" transform="translate(71.73 0) scale(0.9 1) translate(-71.73 0)">B</text></g>
<g transform="translate(550.69 865.60) scale(1.049 1.02)"><path transform="translate(5.98 0) scale(0.9 1) translate(-5.98 0) translate(0.00 0) scale(0.0215 -0.0215)" d="M372.6 0L284.7 0L284.7 560Q252.9 529.8 201.4 499.5Q149.9 469.2 108.9 454.1L108.9 539.1Q182.6 573.7 237.8 623Q293 672.4 315.9 718.8L372.6 718.8Z"/><text x="17.94" y="0" text-anchor="middle" transform="translate(17.94 0) scale(0.9 1) translate(-17.94 0)">4</text><path transform="translate(29.89 0) scale(0.9 1) translate(-29.89 0) translate(23.91 0) scale(0.0215 -0.0215)" d="M372.6 0L284.7 0L284.7 560Q252.9 529.8 201.4 499.5Q149.9 469.2 108.9 454.1L108.9 539.1Q182.6 573.7 237.8 623Q293 672.4 315.9 718.8L372.6 718.8Z"/><text x="41.85" y="0" text-anchor="middle" transform="translate(41.85 0) scale(0.9 1) translate(-41.85 0)">6</text><text x="55.00" y="0" text-anchor="middle" transform="translate(55.00 0) scale(0.9 1) translate(-55.00 0)">A</text><text x="69.93" y="0" text-anchor="middle" transform="translate(69.93 0) scale(0.9 1) translate(-69.93 0)">D</text></g>
<g transform="translate(609.98 940.40) scale(1.024 1.02)"><text x="5.98" y="0" text-anchor="middle" transform="translate(5.98 0) scale(0.9 1) translate(-5.98 0)">0</text><text x="17.94" y="0" text-anchor="middle" transform="translate(17.94 0) scale(0.9 1) translate(-17.94 0)">9</text><path transform="translate(29.89 0) scale(0.9 1) translate(-29.89 0) translate(23.91 0) scale(0.0215 -0.0215)" d="M372.6 0L284.7 0L284.7 560Q252.9 529.8 201.4 499.5Q149.9 469.2 108.9 454.1L108.9 539.1Q182.6 573.7 237.8 623Q293 672.4 315.9 718.8L372.6 718.8Z"/><text x="41.85" y="0" text-anchor="middle" transform="translate(41.85 0) scale(0.9 1) translate(-41.85 0)">8</text><text x="53.81" y="0" text-anchor="middle" transform="translate(53.81 0) scale(0.9 1) translate(-53.81 0)">0</text></g>
</g>
</svg>
</body></html>
